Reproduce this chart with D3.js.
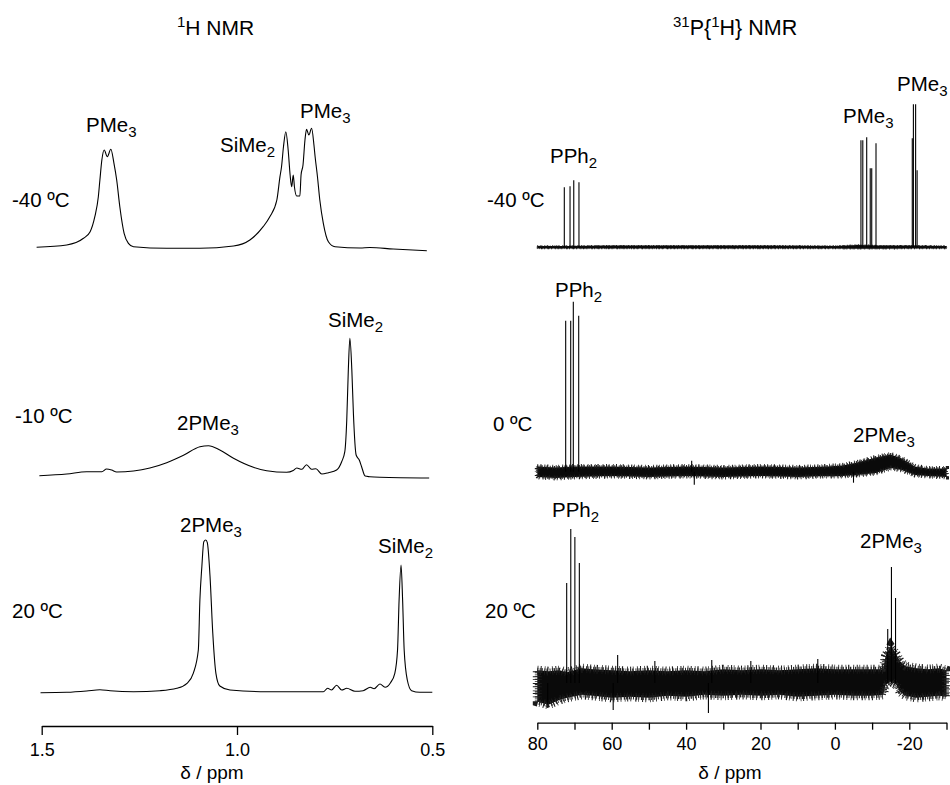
<!DOCTYPE html>
<html>
<head>
<meta charset="utf-8">
<script src="https://cdn.jsdelivr.net/npm/d3@7"></script>
<style>
  body { margin: 0; background: #fff; }
  text { font-family: "Liberation Sans", Arial, sans-serif; fill: #000; }
</style>
</head>
<body>
<script>
// ---- data ----
// 1H traces: [ppm, intensity (arb. units)]
var h1_m40 = [
  [1.513,2.7],[1.436,5],[1.393,11.7],[1.376,18.3],[1.364,33.3],[1.355,53.3],[1.351,70],[1.346,90],
  [1.340,100],[1.332,93.3],[1.323,100.7],[1.315,86.7],[1.308,70],[1.300,43.3],[1.289,16.7],[1.278,6.7],
  [1.265,3.3],[1.180,1.7],[1.095,1.7],[1.009,4],[0.967,10],[0.933,23.3],[0.916,33.3],[0.898,50],
  [0.890,73.3],[0.886,83.3],[0.881,103.3],[0.875,118.3],[0.869,100],[0.864,75],[0.860,63.3],[0.856,75],
  [0.853,63.3],[0.847,54],[0.839,54],[0.836,75],[0.831,85],[0.826,110],[0.822,120.7],[0.816,115],
  [0.809,121.7],[0.803,105],[0.800,93.3],[0.794,73.3],[0.788,50],[0.779,26.7],[0.766,8.3],[0.749,3.3],
  [0.685,2],[0.660,2.5],[0.600,1],[0.514,-0.7]
];
var h1_m10 = [
  [1.506,1.3],[1.436,3],[1.385,5.3],[1.346,5.3],[1.334,8],[1.321,7],[1.308,5],[1.265,6],[1.223,9],
  [1.180,14.3],[1.137,21.7],[1.095,30.3],[1.073,31.3],[1.044,27],[1.009,18.7],[0.958,9.7],[0.924,6.3],
  [0.873,4.7],[0.856,6.5],[0.847,9],[0.834,7.7],[0.822,12.3],[0.809,7.7],[0.798,8.3],[0.783,3],
  [0.766,4.3],[0.745,7],[0.732,15.3],[0.724,25.3],[0.719,57],[0.715,107],[0.711,138.7],[0.706,107],
  [0.702,63.7],[0.695,22],[0.687,17],[0.681,10.3],[0.672,1],[0.660,0.3],[0.634,-0.3],[0.508,-1]
];
var h1_20 = [
  [1.503,-0.2],[1.436,0.2],[1.385,1.5],[1.351,2.8],[1.325,1.8],[1.265,0.8],[1.197,1.8],[1.154,4.2],
  [1.128,9.2],[1.112,19.2],[1.099,42.5],[1.095,92.5],[1.090,125.8],[1.085,150.8],[1.080,152.5],
  [1.076,149.8],[1.069,115.8],[1.062,59.2],[1.054,19.2],[1.044,6.5],[1.018,2.5],[0.924,0.8],[0.779,0.8],
  [0.768,4.2],[0.758,2.5],[0.745,7.2],[0.732,2.5],[0.719,4.2],[0.698,1.2],[0.677,1.8],[0.659,5.2],
  [0.649,3.8],[0.634,8.5],[0.621,5.2],[0.607,9.8],[0.596,19.2],[0.589,42.5],[0.585,92.5],[0.580,127.5],
  [0.576,92.5],[0.572,42.5],[0.564,12.5],[0.553,1.8],[0.532,0.2],[0.500,0.2]
];

// 31P traces: noise band [ppm, low, high], lines and spikes [ppm, height]
var p31_m40_band = [[80,-1.8,1.8],[72,-1.8,1.8],[60,-1.8,2.2],[40,-1.8,2.2],[20,-1.8,2.2],[0,-1.8,1.8],[-6,-2,2.8],[-12,-2,2.2],[-20,-1.8,2.2],[-30,-1.8,1.8]];
var p31_m40_lines = [[72.74,60],[71.2,61],[70.2,67],[68.8,65],
  [-7.0,107],[-7.5,107],[-8.55,110],[-9.5,79],[-9.9,79],[-11.05,104],
  [-20.8,109],[-21.1,143],[-21.7,143],[-22.1,77]];

var p31_0_band = [[80,-7,7],[75,-8,6],[70,-7,7],[60,-6,7],[50,-7,6],[40,-6,7],[30,-7,6],[20,-6,7],
  [10,-7,6],[2,-6,7],[-2,-6,8],[-6,-5,11],[-11,-3,16],[-15,2,19],[-18,0,15],[-21.5,-5,7],[-25,-6,5],[-30,-7,5]];
var p31_0_lines = [[72.37,151],[71.02,151],[70.32,170],[68.87,156]];
var p31_0_spikes = [[38.5,11],[37.8,-13],[-5,-11]];

var p31_20_band = [[80,-22,16],[77,-25,15],[74,-20,16],[72,-18,14],[68,-15,18],[65,-16,17],[60,-18,16],
  [55,-17,15],[50,-18,16],[45,-16,15],[40,-17,16],[35,-15,15],[30,-16,17],[25,-15,16],[20,-16,17],
  [15,-15,16],[10,-17,17],[5,-16,18],[0,-15,17],[-5,-16,17],[-10,-16,17],[-13,-15,17],[-13.6,-5,30],
  [-15,-2,40],[-16.5,-5,32],[-17.5,-12,25],[-19,-16,20],[-22,-18,18],[-25,-17,17],[-28,-16,18],[-30,-17,16]];
var p31_20_lines = [[72.1,100],[71.0,154],[69.9,146],[68.7,120],[-14.2,54],[-15.2,116],[-16.3,85]];
var p31_20_spikes = [[77.2,-25],[59.6,-27],[58.4,28],[48.4,22],[34.0,-30],[33.1,23],[22.6,22],[4.6,24]];

var tempsH = ["-40 ºC", "-10 ºC", "20 ºC"];
var tempsP = ["-40 ºC", "0 ºC", "20 ºC"];
var ticksH = [1.5, 1.0, 0.5];
var ticksP = [80, 70, 60, 50, 40, 30, 20, 10, 0, -10, -20, -30];

// ---- layout ----
var svg = d3.select("body").append("svg").attr("width", 950).attr("height", 785);

var xH = d3.scaleLinear().domain([1.5, 0.5]).range([41.7, 432.3]);
var xP = d3.scaleLinear().domain([80, -30]).range([537.3, 946.5]);

var baseH = [250, 477, 692.5];
var baseP = [247.3, 471.7, 683];

function yAt(base) {
  return d3.scaleLinear().domain([0, 100]).range([base, base - 100]);
}

// 1H spectra
[h1_m40, h1_m10, h1_20].forEach(function(tr, i) {
  var y = yAt(baseH[i]);
  var line = d3.line()
    .x(function(d) { return xH(d[0]); })
    .y(function(d) { return y(d[1]); })
    .curve(d3.curveMonotoneX);
  svg.append("path").datum(tr)
    .attr("d", line)
    .style("fill", "none")
    .style("stroke", "#000")
    .style("stroke-width", 1.1);
});

// 31P spectra; the noise band is a filled envelope, its outline drawn twice
// with broken thick strokes so the edges look ragged like the raw noise
var pTraces = [
  {band: p31_m40_band, lines: p31_m40_lines, spikes: [], edge: 1.4},
  {band: p31_0_band, lines: p31_0_lines, spikes: p31_0_spikes, edge: 5},
  {band: p31_20_band, lines: p31_20_lines, spikes: p31_20_spikes, edge: 9}
];
pTraces.forEach(function(tr, i) {
  var y = yAt(baseP[i]);
  var inset = tr.edge * 0.35;
  var area = d3.area()
    .x(function(d) { return xP(d[0]); })
    .y0(function(d) { return y(d[1]) - inset; })
    .y1(function(d) { return y(d[2]) + inset; });
  svg.append("path").datum(tr.band)
    .attr("d", area)
    .style("fill", "#0a0a0a")
    .style("stroke", "#1a1a1a")
    .style("stroke-width", tr.edge)
    .style("stroke-dasharray", "0.8,2.3,1,3.1,0.7,1.9,1.2,4,0.8,2.6,1,1.7,0.7,3.4");
  svg.append("path").datum(tr.band)
    .attr("d", area)
    .style("fill", "none")
    .style("stroke", "#222")
    .style("stroke-width", tr.edge * 0.55)
    .style("stroke-dasharray", "1,1.3,0.8,0.9,1.4,1.7,0.9,1.1,1.2,2.1");

  svg.selectAll(null)
    .data(tr.lines.concat(tr.spikes))
    .enter().append("line")
    .attr("x1", function(d) { return xP(d[0]); })
    .attr("x2", function(d) { return xP(d[0]); })
    .attr("y1", y(0))
    .attr("y2", function(d) { return y(d[1]); })
    .style("stroke", "#000")
    .style("stroke-width", 1.1);
});

// axes
var axH = svg.append("g").attr("transform", "translate(0,726)")
  .call(d3.axisBottom(xH).tickValues(ticksH).tickFormat(d3.format(".1f"))
    .tickSize(9).tickSizeOuter(0).tickPadding(8));
var axP = svg.append("g").attr("transform", "translate(0,722.7)")
  .call(d3.axisBottom(xP).tickValues(ticksP)
    .tickFormat(function(d) { return d % 20 === 0 ? d : ""; })
    .tickSize(7).tickSizeOuter(0).tickPadding(8));
[axH, axP].forEach(function(ax) {
  ax.selectAll("path, line").style("stroke", "#000").style("stroke-width", 1.3);
  ax.selectAll("text").style("font-size", "18px").style("font-family", "Liberation Sans, Arial, sans-serif");
});

svg.append("text").attr("x", 212).attr("y", 779).attr("text-anchor", "middle")
  .style("font-size", "19px").text("δ / ppm");
svg.append("text").attr("x", 730).attr("y", 779).attr("text-anchor", "middle")
  .style("font-size", "19px").text("δ / ppm");

// text with sub/superscripts: parts are [text, "sub"|"sup"|""]
function label(x, y, parts, size) {
  var t = svg.append("text").attr("x", x).attr("y", y).style("font-size", (size || 20.5) + "px");
  var shift = 0;
  parts.forEach(function(p) {
    var target = p[1] === "sub" ? 5 : p[1] === "sup" ? -8 : 0;
    var ts = t.append("tspan").attr("dy", target - shift).text(p[0]);
    if (p[1]) ts.style("font-size", "15px");
    shift = target;
  });
}

label(177, 35, [["1", "sup"], ["H NMR", ""]], 21);
label(673, 35, [["31", "sup"], ["P{", ""], ["1", "sup"], ["H} NMR", ""]], 21.5);

var tempPosH = [[12, 207], [15, 423], [12, 618]];
var tempPosP = [[487, 207], [493, 431], [485, 618]];
tempsH.forEach(function(s, i) { label(tempPosH[i][0], tempPosH[i][1], [[s, ""]]); });
tempsP.forEach(function(s, i) { label(tempPosP[i][0], tempPosP[i][1], [[s, ""]]); });

var PMe3 = [["PMe", ""], ["3", "sub"]];
var SiMe2 = [["SiMe", ""], ["2", "sub"]];
var PMe3x2 = [["2PMe", ""], ["3", "sub"]];
var PPh2 = [["PPh", ""], ["2", "sub"]];

label(86, 132, PMe3);
label(220, 152, SiMe2);
label(300, 118, PMe3);
label(177, 430, PMe3x2);
label(328, 327, SiMe2);
label(180, 532, PMe3x2);
label(378, 553, SiMe2);

label(550, 163, PPh2);
label(843, 123, PMe3);
label(897, 91, PMe3);
label(555, 297, PPh2);
label(853, 442, PMe3x2);
label(552, 517, PPh2);
label(860, 548, PMe3x2);
</script>
</body>
</html>
